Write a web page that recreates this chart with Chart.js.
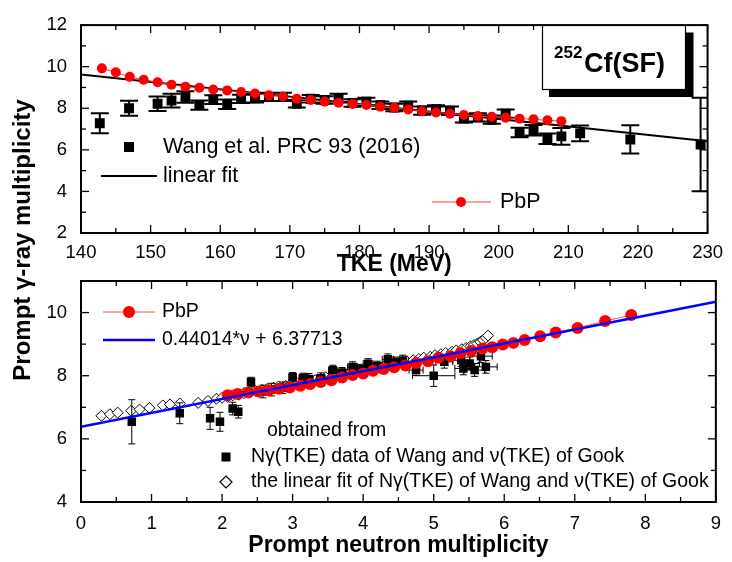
<!DOCTYPE html>
<html><head><meta charset="utf-8">
<script src="https://cdn.jsdelivr.net/npm/chart.js@4/dist/chart.umd.min.js"></script>
<style>
html,body{margin:0;padding:0;background:#fff;}
#wrap{position:relative;width:732px;height:562px;overflow:hidden;}
canvas{position:absolute;left:0;top:0;}
</style></head><body>
<div id="wrap"><canvas id="cTop" width="732" height="562"></canvas><canvas id="cBot" width="732" height="562"></canvas></div>
<script>
// ---------- DATA ----------
// Top panel: PbP calculation N_gamma(TKE)
const pbpTKE = [143,145,147,149,151,153,155,157,159,161,163,165,167,169,171,173,175,177,179,181,183,185,187,189,191,193,195,197,199,201,203,205,207,209];
const pbpGamma = [9.92,9.73,9.51,9.37,9.25,9.13,9.04,8.99,8.90,8.86,8.78,8.71,8.62,8.57,8.46,8.40,8.32,8.27,8.21,8.16,8.07,8.02,7.94,7.86,7.80,7.74,7.68,7.63,7.59,7.54,7.50,7.47,7.42,7.38];
// PbP prompt neutron multiplicity for the same TKE points (bottom panel x)
const pbpNu = [7.80,7.43,7.04,6.73,6.51,6.29,6.13,5.98,5.83,5.69,5.53,5.38,5.24,5.07,4.92,4.75,4.60,4.44,4.29,4.14,4.00,3.85,3.70,3.55,3.40,3.25,3.11,2.96,2.81,2.66,2.52,2.37,2.22,2.08];

// Top panel: Wang et al. PRC 93 (2016)
const wangTKE = [142.7,146.9,151,153,155,157,159,161,163,165,167,169,171,173,175,177,179,181,183,185,187,189,191,193,195,197,199,201,203,205,207,209,211.7,218.9,229];
const wangGamma = [7.28,8.00,8.22,8.37,8.54,8.15,8.42,8.19,8.45,8.48,8.55,8.55,8.22,8.46,8.40,8.50,8.25,8.32,8.15,8.04,8.12,7.89,7.95,7.88,7.51,7.56,7.45,7.74,6.83,6.94,6.53,6.65,6.79,6.50,6.26];
const wangErr = [0.48,0.36,0.35,0.33,0.28,0.22,0.21,0.23,0.20,0.20,0.20,0.20,0.18,0.18,0.18,0.20,0.18,0.18,0.18,0.18,0.20,0.20,0.20,0.20,0.20,0.20,0.20,0.20,0.23,0.25,0.25,0.40,0.38,0.68,2.25];

// Top panel: linear fit end points
const fitTKE = [140, 230];
const fitGamma = [9.63, 6.41];

// Bottom panel: N_gamma(TKE) data of Wang vs nu(TKE) of Gook
const blkNu = [0.72,1.40,1.83,1.97,2.15,2.23,2.41,2.58,2.70,2.86,3.00,3.15,3.23,3.40,3.57,3.70,3.85,3.95,4.07,4.20,4.35,4.45,4.56,4.75,5.00,5.15,5.39,5.42,5.51,5.58,5.67,5.74];
const blkGamma = [6.54,6.81,6.65,6.54,6.96,6.86,7.80,7.50,7.56,7.62,7.95,7.93,7.90,7.92,8.17,8.10,8.28,8.20,8.38,8.30,8.52,8.42,8.48,8.18,8.00,8.44,8.49,8.23,8.39,8.18,8.62,8.28];
const blkGammaErr = [0.70,0.33,0.35,0.30,0.20,0.20,0.15,0.20,0.20,0.18,0.15,0.15,0.17,0.17,0.16,0.16,0.16,0.16,0.16,0.16,0.17,0.17,0.17,0.17,0.34,0.20,0.20,0.20,0.20,0.20,0.20,0.20];
const blkNuErr = [0.03,0.03,0.04,0.04,0.04,0.04,0.05,0.05,0.05,0.05,0.05,0.06,0.06,0.06,0.06,0.07,0.07,0.07,0.07,0.08,0.08,0.08,0.08,0.10,0.30,0.12,0.12,0.12,0.14,0.14,0.16,0.16];

// Bottom panel: linear fit of N_gamma(TKE) of Wang vs nu(TKE) of Gook (diamonds)
const dmdNu = [0.29,0.41,0.52,0.71,0.83,0.97,1.16,1.26,1.40,1.66,1.80,1.92,2.00,2.08,2.15,2.24,2.31,2.40,2.47,2.57,2.64,2.73,2.80,2.90,2.97,3.07,3.15,3.22,3.32,3.40,3.47,3.56,3.63,3.73,3.80,3.89,3.97,4.05,4.13,4.22,4.30,4.38,4.47,4.55,4.62,4.71,4.79,4.86,4.95,5.02,5.10,5.17,5.26,5.32,5.40,5.46,5.52,5.57,5.62,5.66,5.70,5.74,5.77];
const dmdGamma = [6.73,6.78,6.83,6.89,6.93,6.98,7.06,7.09,7.12,7.14,7.20,7.27,7.30,7.33,7.38,7.40,7.45,7.47,7.52,7.55,7.58,7.62,7.66,7.68,7.73,7.76,7.80,7.83,7.86,7.90,7.95,7.97,8.02,8.05,8.09,8.12,8.17,8.19,8.24,8.27,8.31,8.34,8.38,8.41,8.46,8.49,8.53,8.57,8.60,8.65,8.68,8.72,8.76,8.80,8.84,8.88,8.93,8.97,9.02,9.07,9.13,9.20,9.27];

// Bottom panel: fitted line 0.44014*nu + 6.37713, end points
const lineNu = [0, 9];
const lineGamma = [6.38, 10.34];

// Tick labels
const tkeTicks = [140,150,160,170,180,190,200,210,220,230];
const topGammaTicks = [2,4,6,8,10,12];
const nuTicks = [0,1,2,3,4,5,6,7,8,9];
const botGammaTicks = [4,6,8,10];

// ---------- DRAWING ----------
const FONT = '"Liberation Sans", Arial, Helvetica, sans-serif';
const pts = (xs, ys) => xs.map((v, i) => ({x: v, y: ys[i]}));

function seg(ctx, x1, y1, x2, y2) { ctx.beginPath(); ctx.moveTo(x1, y1); ctx.lineTo(x2, y2); ctx.stroke(); }

function frameTicks(chart, xMinor, xMajor, yMinor, yMajor) {
  const {ctx, chartArea: a, scales: {x, y}} = chart;
  ctx.save();
  ctx.strokeStyle = '#000';
  ctx.lineWidth = 1.3;
  const isMajor = (v, base, step) => Math.abs((v - base) / step - Math.round((v - base) / step)) < 1e-6;
  for (let v = x.min; v <= x.max + 1e-9; v += xMinor) {
    const p = x.getPixelForValue(v);
    const L = isMajor(v, x.min, xMajor) ? 8 : 5;
    seg(ctx, p, a.bottom, p, a.bottom - L);
    seg(ctx, p, a.top, p, a.top + L);
  }
  for (let v = y.min; v <= y.max + 1e-9; v += yMinor) {
    const p = y.getPixelForValue(v);
    const L = isMajor(v, y.min, yMajor) ? 8 : 5;
    seg(ctx, a.left, p, a.left + L, p);
    seg(ctx, a.right, p, a.right - L, p);
  }
  ctx.lineWidth = 2;
  ctx.strokeRect(a.left, a.top, a.right - a.left, a.bottom - a.top);
  ctx.restore();
}

function errBars(chart, xs, ys, yerr, xerr, cap, lw) {
  const {ctx, chartArea: a, scales: {x, y}} = chart;
  ctx.save();
  ctx.beginPath(); ctx.rect(a.left, a.top, a.right - a.left, a.bottom - a.top); ctx.clip();
  ctx.strokeStyle = '#000'; ctx.lineWidth = lw;
  ctx.beginPath();
  for (let i = 0; i < xs.length; i++) {
    const px = x.getPixelForValue(xs[i]);
    const py = y.getPixelForValue(ys[i]);
    if (yerr) {
      const y1 = y.getPixelForValue(ys[i] + yerr[i]);
      const y2 = y.getPixelForValue(ys[i] - yerr[i]);
      ctx.moveTo(px, y1); ctx.lineTo(px, y2);
      ctx.moveTo(px - cap, y1); ctx.lineTo(px + cap, y1);
      ctx.moveTo(px - cap, y2); ctx.lineTo(px + cap, y2);
    }
    if (xerr) {
      const x1 = x.getPixelForValue(xs[i] - xerr[i]);
      const x2 = x.getPixelForValue(xs[i] + xerr[i]);
      ctx.moveTo(x1, py); ctx.lineTo(x2, py);
      ctx.moveTo(x1, py - cap); ctx.lineTo(x1, py + cap);
      ctx.moveTo(x2, py - cap); ctx.lineTo(x2, py + cap);
    }
  }
  ctx.stroke();
  ctx.restore();
}

const topDecor = {
  id: 'topDecor',
  beforeDatasetDraw(chart, args) {
    if (args.meta.label === 'Wang') errBars(chart, wangTKE, wangGamma, wangErr, null, 9, 2);
  },
  afterDraw(chart) {
    const ctx = chart.ctx;
    frameTicks(chart, 5, 10, 1, 2);
    ctx.save();
    // legend
    ctx.fillStyle = '#000'; ctx.strokeStyle = '#000';
    ctx.font = '21.5px ' + FONT; ctx.textBaseline = 'middle'; ctx.textAlign = 'left';
    ctx.fillRect(124, 142, 10, 10);
    ctx.fillText('Wang et al. PRC 93 (2016)', 163, 147);
    ctx.lineWidth = 2; seg(ctx, 101, 176, 157, 176);
    ctx.fillText('linear fit', 163, 176);
    ctx.strokeStyle = '#ff4040'; ctx.lineWidth = 1; seg(ctx, 432, 202, 491, 202);
    ctx.fillStyle = '#ff0000'; ctx.beginPath(); ctx.arc(461, 202, 5, 0, Math.PI * 2); ctx.fill();
    ctx.fillStyle = '#000'; ctx.fillText('PbP', 500, 202);
    // 252Cf(SF) box with shadow
    ctx.fillStyle = '#000'; ctx.fillRect(549, 32.5, 144.5, 64.5);
    ctx.fillStyle = '#fff'; ctx.fillRect(542.5, 25.5, 143, 64);
    ctx.strokeStyle = '#000'; ctx.lineWidth = 1.2; ctx.strokeRect(542.5, 25.5, 143, 64);
    ctx.fillStyle = '#000'; ctx.textBaseline = 'alphabetic';
    ctx.font = 'bold 17px ' + FONT; ctx.fillText('252', 554, 57.5);
    ctx.font = 'bold 27px ' + FONT; ctx.fillText('Cf(SF)', 584, 72);
    // shared y-axis title
    ctx.translate(23, 240); ctx.rotate(-Math.PI / 2);
    ctx.font = 'bold 24px ' + FONT; ctx.textAlign = 'center'; ctx.textBaseline = 'middle';
    ctx.fillText('Prompt \u03b3-ray multiplicity', 0, 0);
    ctx.restore();
  }
};

const botDecor = {
  id: 'botDecor',
  beforeDatasetDraw(chart, args) {
    if (args.meta.label === 'WangGook') errBars(chart, blkNu, blkGamma, blkGammaErr, blkNuErr, 3.5, 1);
  },
  afterDraw(chart) {
    const ctx = chart.ctx;
    frameTicks(chart, 0.5, 1, 1, 2);
    ctx.save();
    ctx.font = '19.5px ' + FONT; ctx.textBaseline = 'middle'; ctx.textAlign = 'left';
    ctx.strokeStyle = '#ff5050'; ctx.lineWidth = 1; seg(ctx, 103, 312, 155, 312);
    ctx.fillStyle = '#ff0000'; ctx.beginPath(); ctx.arc(129, 312, 6, 0, Math.PI * 2); ctx.fill();
    ctx.fillStyle = '#000'; ctx.fillText('PbP', 162, 312);
    ctx.strokeStyle = '#0000ff'; ctx.lineWidth = 2.5; seg(ctx, 103, 340, 155, 340);
    ctx.fillText('0.44014*\u03bd + 6.37713', 162, 340);
    ctx.fillText('obtained from', 267, 431);
    ctx.fillRect(221.5, 452.5, 9, 9);
    ctx.fillText('N\u03b3(TKE) data of Wang and \u03bd(TKE) of Gook', 251, 457);
    ctx.beginPath(); ctx.moveTo(220, 482); ctx.lineTo(226, 476); ctx.lineTo(232, 482); ctx.lineTo(226, 488); ctx.closePath();
    ctx.fillStyle = '#fff'; ctx.fill(); ctx.strokeStyle = '#000'; ctx.lineWidth = 1.2; ctx.stroke();
    ctx.fillStyle = '#000';
    ctx.fillText('the linear fit of N\u03b3(TKE) of Wang and \u03bd(TKE) of Gook', 251, 482);
    ctx.restore();
  }
};

const tickFont = {family: FONT, size: 18.5};
const titleFont = {family: FONT, size: 23, weight: 'bold'};

new Chart(document.getElementById('cTop'), {
  type: 'scatter',
  data: {datasets: [
    {label: 'PbP', data: pts(pbpTKE, pbpGamma), showLine: true, borderColor: '#ff4040', borderWidth: 1,
     pointRadius: 5, pointBackgroundColor: '#ff0000', pointBorderWidth: 0, order: 1},
    {label: 'Wang', data: pts(wangTKE, wangGamma), pointStyle: 'rect', pointRadius: 7,
     pointBackgroundColor: '#000', pointBorderWidth: 0, order: 2},
    {label: 'fit', data: pts(fitTKE, fitGamma), showLine: true, borderColor: '#000', borderWidth: 2,
     pointRadius: 0, order: 3}
  ]},
  options: {
    responsive: false, animation: false, devicePixelRatio: 1,
    layout: {padding: {top: 13, right: 15, bottom: 282, left: 0}},
    plugins: {legend: {display: false}, tooltip: {enabled: false}},
    scales: {
      x: {type: 'linear', min: 140, max: 230,
          afterBuildTicks: s => { s.ticks = tkeTicks.map(v => ({value: v})); },
          afterFit: s => { s.height = 47; },
          grid: {display: false, drawTicks: false}, border: {display: false},
          ticks: {font: tickFont, color: '#000', padding: 9, maxRotation: 0, autoSkip: false},
          title: {display: true, text: 'TKE (MeV)', font: titleFont, color: '#000', padding: {top: 0, bottom: 2}}},
      y: {type: 'linear', min: 2, max: 12,
          afterBuildTicks: s => { s.ticks = topGammaTicks.map(v => ({value: v})); },
          afterFit: s => { s.width = 81; },
          grid: {display: false, drawTicks: false}, border: {display: false},
          ticks: {font: tickFont, color: '#000', padding: 14, autoSkip: false}}
    }
  },
  plugins: [topDecor]
});

new Chart(document.getElementById('cBot'), {
  type: 'scatter',
  data: {datasets: [
    {label: 'line', data: pts(lineNu, lineGamma), showLine: true, borderColor: '#0000ff', borderWidth: 2.5,
     pointRadius: 0, order: 1},
    {label: 'PbP', data: pts(pbpNu, pbpGamma), showLine: true, borderColor: '#ff5050', borderWidth: 1,
     pointRadius: 6, pointBackgroundColor: '#ff0000', pointBorderWidth: 0, order: 2},
    {label: 'WangGook', data: pts(blkNu, blkGamma), pointStyle: 'rect', pointRadius: 6,
     pointBackgroundColor: '#000', pointBorderWidth: 0, order: 3},
    {label: 'fitGook', data: pts(dmdNu, dmdGamma), pointStyle: 'rectRot', pointRadius: 5.5,
     pointBackgroundColor: '#fff', pointBorderColor: '#000', pointBorderWidth: 1, order: 4}
  ]},
  options: {
    responsive: false, animation: false, devicePixelRatio: 1,
    layout: {padding: {top: 281, right: 15, bottom: 0, left: 0}},
    plugins: {legend: {display: false}, tooltip: {enabled: false}},
    scales: {
      x: {type: 'linear', min: 0, max: 9,
          afterBuildTicks: s => { s.ticks = nuTicks.map(v => ({value: v})); },
          afterFit: s => { s.height = 60; },
          grid: {display: false, drawTicks: false}, border: {display: false},
          ticks: {font: tickFont, color: '#000', padding: 11, maxRotation: 0, autoSkip: false},
          title: {display: true, text: 'Prompt neutron multiplicity', font: titleFont, color: '#000', padding: {top: 0, bottom: 3}}},
      y: {type: 'linear', min: 4, max: 11,
          afterBuildTicks: s => { s.ticks = botGammaTicks.map(v => ({value: v})); },
          afterFit: s => { s.width = 81; },
          grid: {display: false, drawTicks: false}, border: {display: false},
          ticks: {font: tickFont, color: '#000', padding: 14, autoSkip: false}}
    }
  },
  plugins: [botDecor]
});
</script>
</body></html>
